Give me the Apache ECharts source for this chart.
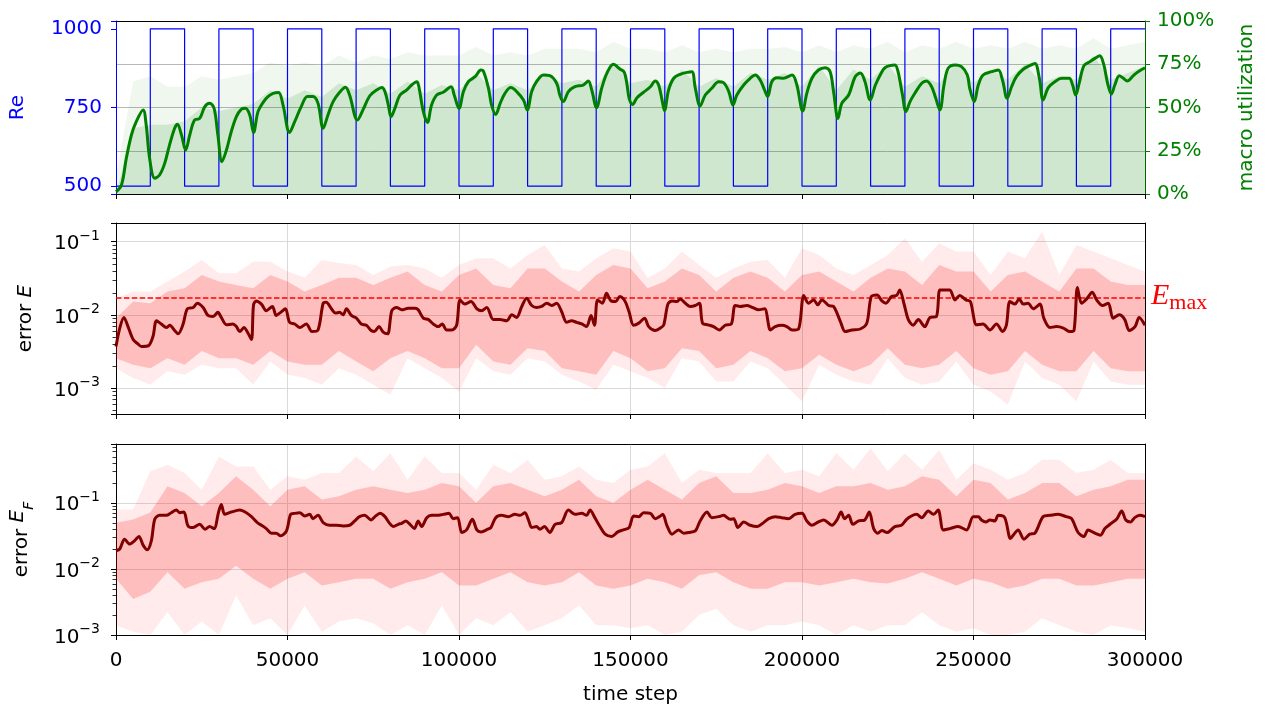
<!DOCTYPE html>
<html>
<head>
<meta charset="utf-8">
<script src="https://cdn.jsdelivr.net/npm/echarts@6.0.0/dist/echarts.min.js"></script>
<style>
  html, body { margin: 0; padding: 0; background: #fff; }
  #chart { width: 1271px; height: 709px; }
</style>
</head>
<body>
<div id="chart"></div>
<script>
// ---- data ----
const xTicks = [0, 50000, 100000, 150000, 200000, 250000, 300000];

// Reynolds number, square wave (value holds until the next step)
const reSteps = [0, 10000, 20000, 30000, 40000, 50000, 60000, 70000, 80000, 90000, 100000, 110000, 120000, 130000, 140000, 150000, 160000, 170000, 180000, 190000, 200000, 210000, 220000, 230000, 240000, 250000, 260000, 270000, 280000, 290000, 300000];
const reValues = [500, 1000, 500, 1000, 500, 1000, 500, 1000, 500, 1000, 500, 1000, 500, 1000, 500, 1000, 500, 1000, 500, 1000, 500, 1000, 500, 1000, 500, 1000, 500, 1000, 500, 1000, 1000];

// sample points of the raw (noisy) signals
const noiseSteps = [0, 5000, 10000, 15000, 20000, 25000, 30000, 35000, 40000, 45000, 50000, 55000, 60000, 65000, 70000, 75000, 80000, 85000, 90000, 95000, 100000, 105000, 110000, 115000, 120000, 125000, 130000, 135000, 140000, 145000, 150000, 155000, 160000, 165000, 170000, 175000, 180000, 185000, 190000, 195000, 200000, 205000, 210000, 215000, 220000, 225000, 230000, 235000, 240000, 245000, 250000, 255000, 260000, 265000, 270000, 275000, 280000, 285000, 290000, 295000, 300000];

// macro utilization (%), raw signal: dense top and spike top
const utilFillTop = [0, 38, 40, 40, 42, 50, 48, 50, 52, 60, 55, 60, 56, 64, 60, 64, 58, 65, 58, 63, 60, 70, 60, 64, 60, 70, 64, 66, 62, 76, 64, 66, 62, 72, 62, 67, 62, 70, 66, 70, 62, 74, 60, 72, 66, 75, 62, 68, 64, 76, 64, 72, 66, 75, 64, 68, 66, 80, 66, 70, 74];
const utilSpikeTop = [10, 65, 68, 62, 62, 68, 66, 68, 70, 76, 74, 76, 74, 80, 76, 80, 78, 82, 80, 80, 80, 85, 80, 82, 80, 84, 84, 84, 82, 88, 84, 84, 82, 86, 82, 84, 82, 84, 84, 85, 82, 86, 82, 86, 84, 88, 82, 86, 84, 88, 84, 86, 84, 88, 84, 86, 84, 90, 84, 86, 88];

// macro utilization (%), smoothed
const utilSmooth = [[0,1.3],[1600,5.2],[3000,20.6],[4500,34.1],[5900,41.8],[7900,48.6],[8800,39.9],[9800,20.6],[11300,9.1],[12700,11],[14200,17.7],[15600,28.3],[17100,38],[17900,40.3],[19100,34.1],[20300,25.4],[21500,34.1],[22900,42.8],[24400,43.7],[25900,50.5],[27300,52.4],[28600,49.5],[29700,34.1],[30900,18.7],[32200,25.4],[33600,36],[35100,44.7],[36500,48.9],[37700,49.5],[39000,45.7],[40100,35.6],[41400,47.6],[42900,53],[44300,56.3],[45800,58.2],[47400,58.6],[48700,51.4],[50600,35.6],[52100,41.8],[54000,50.5],[55800,56.3],[57400,56.3],[58900,52.4],[60400,38],[61800,45.7],[63300,53.4],[65200,58.8],[66900,61.7],[68100,57.2],[70400,42.8],[72000,48.6],[74000,56.8],[76000,60.1],[77500,61.5],[78400,59.2],[79400,51.4],[80200,44.7],[81300,49.5],[82800,57.2],[84700,60.1],[86200,63],[87700,64.9],[88300,62],[89600,47.6],[90800,41.4],[92000,51.4],[93500,57.2],[95400,58.8],[97700,62],[98600,57.2],[100000,49.5],[101300,59.2],[102700,64.9],[104700,67.8],[106400,71.7],[107100,71.1],[108600,61.1],[109500,51.4],[110700,46],[112000,52.4],[113400,58.2],[115100,61.5],[116800,59.2],[118800,54.3],[119900,48.6],[121200,59.2],[122600,64.9],[124600,68.8],[126500,68.4],[128500,63.9],[129400,57.2],[130400,53.4],[131900,59.2],[133800,62],[136200,63],[137700,65.3],[138700,60.1],[140100,49.9],[141600,61.1],[143100,69.7],[145000,75],[146900,72.3],[148200,70.3],[149000,63],[149600,55.3],[150600,51.8],[151900,55.7],[153800,58.8],[155800,62],[157200,65.3],[158200,63],[159200,54.3],[159900,48.2],[161100,60.1],[162600,66.9],[164500,69.2],[166500,70.3],[167900,70.7],[168900,61.1],[170300,50.9],[171800,57.2],[173700,61.1],[175700,64.9],[177100,64.4],[178600,59.5],[179900,51.4],[181000,57.2],[183000,63],[184900,66.9],[186400,68.8],[187800,65.9],[189100,60.1],[190000,56.3],[191200,64.9],[192700,67.2],[194600,66.9],[197100,68.8],[198500,63],[200200,48],[201400,58.2],[202900,66.9],[204800,71.7],[206800,73],[208200,70.7],[209200,59.2],[210500,43.7],[211600,52.4],[213600,57.2],[215500,67.8],[217000,69.9],[218300,65.3],[219900,54.3],[221400,63],[223300,70.7],[224200,73],[225600,74.2],[227100,74.6],[228000,70.7],[229300,57.2],[230300,47.6],[231500,53.4],[232900,58.2],[234900,64],[236300,65.3],[237800,62],[239000,55.3],[240200,48.6],[241400,63],[242600,72.6],[244600,74.6],[246500,73.6],[248200,68.8],[248900,61.1],[250200,53.4],[251400,63],[252800,68.8],[255300,70.7],[257200,71.7],[258500,65.5],[259800,55.3],[261100,62],[262500,67.8],[264500,72.1],[266400,74.2],[267900,75.5],[269200,66.9],[270300,54.3],[271800,61.5],[273700,64.9],[275700,66.9],[277900,66.9],[278900,63],[279800,57.2],[280800,64],[282200,74.2],[283900,76.5],[285400,78.4],[286800,79.9],[288000,74.6],[289100,64],[290200,57.8],[291200,63],[292500,68.4],[293700,66.9],[294800,65.3],[296600,68.4],[298000,70.7],[300000,73]];

// error E, raw signal envelopes
const eDenseHi = [0.009, 0.0152, 0.0144, 0.0208, 0.0231, 0.035, 0.0285, 0.0256, 0.0231, 0.035, 0.0285, 0.0208, 0.0256, 0.032, 0.032, 0.0256, 0.032, 0.039, 0.0256, 0.0208, 0.035, 0.043, 0.0256, 0.0231, 0.043, 0.043, 0.0285, 0.0208, 0.035, 0.048, 0.043, 0.0231, 0.0285, 0.043, 0.035, 0.0208, 0.032, 0.039, 0.032, 0.0208, 0.035, 0.039, 0.0285, 0.0208, 0.032, 0.043, 0.039, 0.0256, 0.048, 0.039, 0.039, 0.0208, 0.035, 0.039, 0.0285, 0.0208, 0.043, 0.043, 0.0285, 0.0256, 0.0256];
const eDenseLo = [0.00256, 0.00208, 0.00187, 0.00256, 0.00208, 0.0032, 0.00256, 0.00256, 0.00208, 0.0032, 0.00231, 0.00208, 0.00208, 0.0032, 0.00231, 0.00169, 0.00256, 0.0032, 0.00256, 0.00187, 0.00187, 0.0039, 0.00231, 0.00208, 0.0035, 0.0032, 0.00187, 0.00169, 0.00152, 0.0032, 0.00256, 0.00169, 0.00187, 0.0035, 0.0032, 0.00187, 0.00208, 0.0032, 0.00256, 0.00169, 0.00187, 0.00285, 0.00208, 0.00169, 0.00208, 0.0035, 0.00208, 0.00187, 0.00208, 0.0032, 0.00187, 0.00152, 0.00169, 0.0032, 0.00208, 0.00169, 0.00169, 0.0032, 0.00187, 0.00169, 0.00169];
const eSpikeHi = [0.0169, 0.0208, 0.0208, 0.0285, 0.039, 0.056, 0.037, 0.037, 0.053, 0.053, 0.039, 0.032, 0.056, 0.051, 0.048, 0.035, 0.0456, 0.048, 0.043, 0.032, 0.048, 0.0593, 0.0593, 0.043, 0.0658, 0.09, 0.043, 0.039, 0.0593, 0.081, 0.073, 0.032, 0.043, 0.073, 0.048, 0.032, 0.043, 0.053, 0.056, 0.032, 0.081, 0.0658, 0.043, 0.035, 0.048, 0.0658, 0.111, 0.053, 0.095, 0.073, 0.073, 0.035, 0.073, 0.0593, 0.137, 0.035, 0.09, 0.073, 0.0593, 0.048, 0.039];
const eSpikeLo = [0.00187, 0.00137, 0.00111, 0.00169, 0.00152, 0.00208, 0.00187, 0.00187, 0.00111, 0.00231, 0.00152, 0.00137, 0.00111, 0.00187, 0.00152, 0.00111, 0.00081, 0.00256, 0.00187, 0.00137, 0.0009, 0.00256, 0.00169, 0.00152, 0.00256, 0.00231, 0.00152, 0.00123, 0.00095, 0.00208, 0.00169, 0.00137, 0.001, 0.00256, 0.00231, 0.00123, 0.00123, 0.00231, 0.00187, 0.00111, 0.00066, 0.00208, 0.00152, 0.00123, 0.00111, 0.00256, 0.00137, 0.00111, 0.00123, 0.00231, 0.00111, 0.0009, 0.00059, 0.00231, 0.00137, 0.00111, 0.00066, 0.00231, 0.00123, 0.00111, 0.00111];

// error E, smoothed
const eSmooth = [[0,0.0037],[1100,0.0066],[2300,0.0092],[3500,0.0069],[5000,0.0046],[6400,0.004],[7400,0.0037],[9500,0.0038],[10800,0.0051],[11800,0.0083],[13200,0.0075],[14700,0.0067],[15700,0.0072],[17100,0.0061],[18100,0.0055],[19500,0.0073],[20800,0.0121],[22500,0.0126],[23700,0.0144],[25400,0.0126],[26800,0.0098],[28300,0.0095],[29700,0.0108],[30700,0.0092],[32200,0.0073],[34100,0.0075],[35100,0.0069],[36100,0.0059],[37300,0.0067],[38500,0.0056],[39500,0.0046],[40100,0.0137],[40900,0.0155],[42400,0.014],[43800,0.0114],[45600,0.013],[46700,0.0098],[48000,0.0108],[49400,0.0121],[50600,0.0079],[52100,0.0075],[53600,0.0067],[55500,0.0075],[57100,0.0059],[58900,0.0062],[60400,0.0144],[61300,0.0149],[62800,0.0121],[64000,0.0106],[65200,0.0108],[66200,0.01],[67200,0.0121],[68600,0.0098],[70100,0.009],[71500,0.0075],[73000,0.0072],[74400,0.0061],[75300,0.0059],[76700,0.0069],[77900,0.0058],[79200,0.0055],[80400,0.0114],[81800,0.0126],[83300,0.0117],[85200,0.0123],[87200,0.0123],[88100,0.0117],[89600,0.009],[91100,0.0086],[92500,0.0075],[94000,0.0069],[95100,0.0075],[96400,0.0062],[97900,0.0062],[99300,0.0072],[100300,0.016],[101700,0.014],[103500,0.0152],[105200,0.0121],[106600,0.0114],[108100,0.0126],[110000,0.0086],[112000,0.0086],[113900,0.0083],[115400,0.01],[116800,0.0092],[118300,0.013],[119700,0.0169],[121200,0.0134],[122600,0.0126],[124100,0.013],[125600,0.0144],[127000,0.0134],[128500,0.0144],[129900,0.0111],[131400,0.0079],[132800,0.0083],[134300,0.0079],[135800,0.0075],[137200,0.0069],[138500,0.0098],[139500,0.0072],[140400,0.016],[141800,0.0144],[143000,0.0197],[144300,0.0155],[145700,0.0152],[146900,0.0178],[148000,0.0165],[148700,0.0144],[149600,0.0109],[150900,0.0072],[152400,0.0077],[154100,0.009],[155300,0.0069],[157200,0.0061],[158700,0.0066],[159700,0.0073],[160900,0.014],[162100,0.0155],[163500,0.0152],[164500,0.0165],[166000,0.0144],[167400,0.013],[168900,0.0134],[170100,0.0144],[171000,0.0077],[172600,0.0073],[174200,0.0069],[175900,0.0062],[177600,0.0072],[179400,0.0075],[180500,0.0134],[182000,0.013],[183900,0.0134],[185600,0.0126],[187300,0.0117],[189100,0.0121],[190800,0.0062],[192200,0.0069],[194100,0.0072],[195600,0.0069],[197100,0.0062],[199000,0.0064],[200500,0.0184],[201900,0.0144],[203400,0.016],[204600,0.0137],[205800,0.016],[207800,0.0134],[209200,0.013],[211200,0.0081],[212600,0.0059],[214600,0.0062],[217000,0.0064],[218900,0.0077],[220200,0.0178],[221900,0.0187],[223300,0.0155],[224500,0.0144],[226100,0.0178],[227600,0.0184],[228500,0.0219],[229700,0.0144],[231000,0.0086],[232400,0.0072],[233900,0.0086],[235800,0.0069],[237300,0.0092],[239200,0.0095],[240200,0.0219],[241700,0.0219],[243100,0.0219],[244600,0.016],[246000,0.0184],[247800,0.016],[249100,0.0152],[250900,0.0073],[252800,0.0075],[254800,0.0062],[256700,0.0075],[258500,0.0059],[259600,0.0073],[260600,0.0152],[262100,0.014],[263300,0.0165],[264500,0.014],[265900,0.0144],[267400,0.0121],[269400,0.014],[270500,0.009],[272300,0.0067],[274200,0.0069],[276200,0.0066],[278100,0.0059],[279300,0.0061],[280300,0.0236],[281500,0.0144],[283000,0.0165],[284600,0.0204],[285900,0.016],[287600,0.0134],[289300,0.0144],[290700,0.009],[292500,0.01],[294100,0.0086],[295400,0.0061],[297100,0.0069],[298300,0.0092],[300000,0.0072]];
const eMax = 0.017;

// error E_F, raw signal envelopes
const fDenseHi = [0.05, 0.056, 0.071, 0.178, 0.141, 0.089, 0.141, 0.251, 0.158, 0.089, 0.158, 0.178, 0.112, 0.126, 0.158, 0.178, 0.158, 0.141, 0.158, 0.2, 0.178, 0.1, 0.178, 0.2, 0.158, 0.126, 0.158, 0.224, 0.126, 0.1, 0.158, 0.224, 0.158, 0.112, 0.2, 0.251, 0.141, 0.141, 0.158, 0.2, 0.178, 0.141, 0.178, 0.178, 0.2, 0.158, 0.178, 0.251, 0.224, 0.126, 0.224, 0.2, 0.112, 0.141, 0.2, 0.2, 0.126, 0.158, 0.178, 0.224, 0.224];
const fDenseLo = [0.0071, 0.0035, 0.0045, 0.0089, 0.005, 0.0063, 0.0071, 0.0112, 0.0071, 0.005, 0.0071, 0.0089, 0.0056, 0.0063, 0.0071, 0.0071, 0.005, 0.0063, 0.0071, 0.0089, 0.0056, 0.0056, 0.0071, 0.0089, 0.0063, 0.0056, 0.0063, 0.0089, 0.0056, 0.005, 0.0056, 0.0071, 0.0063, 0.005, 0.008, 0.0089, 0.0063, 0.005, 0.005, 0.0063, 0.0063, 0.0056, 0.0063, 0.0071, 0.0063, 0.006, 0.0071, 0.0089, 0.0071, 0.0056, 0.0071, 0.0063, 0.005, 0.0056, 0.0071, 0.0071, 0.0056, 0.0056, 0.0063, 0.0071, 0.0071];
const fSpikeHi = [0.079, 0.079, 0.299, 0.376, 0.282, 0.158, 0.501, 0.355, 0.355, 0.158, 0.251, 0.224, 0.282, 0.282, 0.501, 0.299, 0.562, 0.224, 0.501, 0.282, 0.282, 0.158, 0.376, 0.282, 0.447, 0.224, 0.251, 0.355, 0.224, 0.2, 0.316, 0.355, 0.562, 0.2, 0.316, 0.282, 0.282, 0.282, 0.562, 0.282, 0.316, 0.251, 0.562, 0.316, 0.668, 0.299, 0.562, 0.316, 0.631, 0.224, 0.398, 0.316, 0.224, 0.282, 0.447, 0.447, 0.282, 0.316, 0.447, 0.282, 0.282];
const fSpikeLo = [0.0014, 0.00112, 0.001, 0.0022, 0.001, 0.0016, 0.001, 0.004, 0.0014, 0.0018, 0.001, 0.0028, 0.00112, 0.0016, 0.0018, 0.0015, 0.001, 0.0014, 0.001, 0.0028, 0.001, 0.0018, 0.0014, 0.0022, 0.00112, 0.0014, 0.0018, 0.0028, 0.0014, 0.0014, 0.00126, 0.0014, 0.001, 0.00112, 0.002, 0.0025, 0.0014, 0.00112, 0.0014, 0.0014, 0.0016, 0.0014, 0.001, 0.0014, 0.00112, 0.0014, 0.0014, 0.0022, 0.0014, 0.00112, 0.00126, 0.001, 0.001, 0.00112, 0.0018, 0.0014, 0.00112, 0.001, 0.0014, 0.00126, 0.00112];

// error E_F, smoothed
const fSmooth = [[0,0.0188],[1100,0.02],[2500,0.0282],[4000,0.0237],[5400,0.0266],[6700,0.0309],[7900,0.0229],[9100,0.0195],[10300,0.0266],[11300,0.0562],[12700,0.0646],[14700,0.0646],[16100,0.0708],[17600,0.0776],[18600,0.0708],[19800,0.0724],[21000,0.0447],[22500,0.0422],[24400,0.0473],[26000,0.0398],[27300,0.0437],[28600,0.0407],[29900,0.0724],[30700,0.0944],[31700,0.0668],[33600,0.0724],[36100,0.0776],[38000,0.0708],[39500,0.0617],[41200,0.0501],[42400,0.0457],[43800,0.0407],[45300,0.0347],[46700,0.0347],[48000,0.0316],[49700,0.0376],[50900,0.0668],[52100,0.0692],[53600,0.0708],[55000,0.0631],[56500,0.0668],[57400,0.0575],[58900,0.0646],[60400,0.0501],[62300,0.0457],[64200,0.0457],[66200,0.0447],[68100,0.0457],[69600,0.0531],[71000,0.0617],[72500,0.0646],[74400,0.055],[75500,0.0617],[77000,0.0692],[78400,0.0617],[79600,0.0501],[80900,0.0437],[82300,0.0473],[83300,0.049],[84500,0.0531],[85700,0.0473],[87000,0.0407],[88100,0.0531],[89100,0.0437],[90600,0.0596],[92000,0.0646],[93500,0.0646],[95400,0.0668],[97100,0.0692],[98300,0.0575],[99600,0.0596],[100800,0.0355],[102200,0.0389],[103900,0.0562],[105200,0.0389],[106400,0.0363],[108400,0.0398],[109300,0.0422],[110700,0.0596],[112400,0.0646],[114400,0.0617],[116300,0.0668],[117800,0.0646],[119200,0.0708],[120200,0.0562],[121200,0.0422],[122600,0.0437],[123600,0.0398],[124900,0.0437],[126500,0.0355],[128000,0.0473],[129900,0.0501],[131900,0.0776],[133800,0.0668],[135800,0.0692],[137200,0.0646],[138200,0.0776],[139600,0.0596],[141100,0.0437],[142600,0.0335],[144500,0.0309],[146300,0.0363],[147900,0.0389],[149600,0.0422],[150900,0.0631],[152400,0.0617],[153800,0.0708],[155800,0.0692],[157200,0.0575],[158400,0.0617],[159400,0.0668],[160600,0.0457],[162100,0.0335],[164000,0.0389],[165500,0.0347],[166900,0.0355],[168900,0.0376],[170300,0.0531],[172300,0.0724],[173700,0.0596],[175700,0.0617],[177100,0.0646],[179100,0.0562],[180100,0.0575],[181300,0.0422],[183000,0.0513],[184900,0.0457],[186900,0.0437],[188800,0.0501],[190300,0.0575],[192200,0.0617],[194100,0.0596],[196100,0.0575],[198000,0.0668],[200000,0.0692],[201400,0.0531],[202900,0.0457],[204800,0.0513],[206300,0.055],[208700,0.0457],[210200,0.055],[211400,0.0724],[212400,0.0575],[213600,0.0646],[214800,0.0473],[216500,0.0531],[218300,0.055],[219600,0.0724],[220900,0.0407],[222100,0.0347],[223300,0.038],[224800,0.0355],[227100,0.0437],[229000,0.0457],[230500,0.0562],[231900,0.0631],[233400,0.0668],[234900,0.0596],[236800,0.075],[238300,0.0668],[239700,0.0776],[241200,0.0389],[243100,0.0407],[245500,0.0437],[248000,0.0389],[249900,0.0617],[251400,0.0617],[252300,0.055],[253600,0.0513],[254800,0.055],[256200,0.0531],[257200,0.0646],[259100,0.0596],[260800,0.0288],[261800,0.0335],[263000,0.0389],[264700,0.0282],[266400,0.0335],[267900,0.0347],[270300,0.0617],[272300,0.0646],[274700,0.0668],[277100,0.0617],[278600,0.0575],[280500,0.0355],[282200,0.0309],[283400,0.0389],[285400,0.0347],[287000,0.0324],[288300,0.0407],[289800,0.0473],[291700,0.0562],[293200,0.075],[294400,0.055],[295800,0.0513],[297000,0.0596],[298500,0.0646],[300000,0.0617]];

// ---- chart ----
const FONT = 'DejaVu Sans';
const FS = 20;
const chart = echarts.init(document.getElementById('chart'), null, { renderer: 'canvas' });

const zip = (xs, ys) => xs.map((x, i) => [x, ys[i]]);

// log minor tick positions (2..9 x 10^k) inside an axis range
const minorLogTicks = (lo, hi) => {
  const out = [];
  for (let k = -5; k <= 1; k++) {
    for (let m = 2; m <= 9; m++) {
      const v = m * Math.pow(10, k);
      if (v > lo && v < hi) out.push(v);
    }
  }
  return out;
};

// log tick labels as 10^n
const logLabel = v => {
  const l = Math.log10(v);
  const e = Math.round(l);
  if (Math.abs(l - e) > 0.01) return '';
  return '{b|10}{p|' + (e < 0 ? '\u2212' + (-e) : e) + '}';
};
const logRich = {
  b: { fontSize: FS, fontFamily: FONT, color: '#000', verticalAlign: 'bottom', lineHeight: 25 },
  p: { fontSize: 14, fontFamily: FONT, color: '#000', verticalAlign: 'top', lineHeight: 25 }
};

// filled band between two envelopes, drawn through the axes
const band = (xi, yi, lo, hi, color, z) => ({
  type: 'custom',
  xAxisIndex: xi,
  yAxisIndex: yi,
  silent: true,
  clip: true,
  z: z,
  data: [[noiseSteps[0], hi[0]]],
  encode: { x: 0, y: 1 },
  renderItem: (params, api) => {
    const pts = [];
    for (let i = 0; i < noiseSteps.length; i++) pts.push(api.coord([noiseSteps[i], hi[i]]));
    for (let i = noiseSteps.length - 1; i >= 0; i--) pts.push(api.coord([noiseSteps[i], lo[i]]));
    return { type: 'polygon', shape: { points: pts }, style: { fill: color } };
  }
});

// short minor ticks on the left of a log axis
const minorTicks = (xi, yi, vals) => ({
  type: 'custom',
  xAxisIndex: xi,
  yAxisIndex: yi,
  silent: true,
  clip: false,
  z: 5,
  data: [[0, vals[0]]],
  encode: { x: 0, y: 1 },
  renderItem: (params, api) => ({
    type: 'group',
    children: vals.map(v => {
      const p = api.coord([0, v]);
      const y = Math.round(p[1]) + 0.5;
      return { type: 'line', shape: { x1: p[0] - 3.5, y1: y, x2: p[0], y2: y }, style: { stroke: '#000', lineWidth: 0.8 } };
    })
  })
});

const xAxisFor = (i) => ({
  type: 'value',
  gridIndex: i,
  position: 'bottom',
  min: xTicks[0],
  max: xTicks[xTicks.length - 1],
  interval: 50000,
  axisLine: { show: true, onZero: false, lineStyle: { color: '#000', width: 1 } },
  axisTick: { show: true, length: 5, lineStyle: { color: '#000' } },
  axisLabel: { show: i === 2, color: '#000', fontSize: FS, fontFamily: FONT, margin: 16, formatter: v => String(v) },
  splitLine: { show: i > 0, lineStyle: { color: '#d9d9d9', width: 1 } },
  name: i === 2 ? 'time step' : '',
  nameLocation: 'middle',
  nameGap: 50,
  nameTextStyle: { color: '#000', fontSize: FS, fontFamily: FONT }
});

// top frame line of each panel
const topFrame = (i) => ({
  type: 'value', gridIndex: i, position: 'top',
  min: xTicks[0], max: xTicks[xTicks.length - 1],
  axisLine: { show: true, onZero: false, lineStyle: { color: '#000', width: 1 } },
  axisTick: { show: false }, axisLabel: { show: false }, splitLine: { show: false }
});
// right frame line of the log panels
const rightFrame = (i, lo, hi) => ({
  type: 'log', gridIndex: i, position: 'right', min: lo, max: hi,
  axisLine: { show: true, onZero: false, lineStyle: { color: '#000', width: 1 } },
  axisTick: { show: false }, axisLabel: { show: false }, splitLine: { show: false }
});

const eRange = [0.000442, 0.1795];
const fRange = [0.001, 0.775];

const option = {
  animation: false,
  backgroundColor: '#fff',
  grid: [
    { left: 116, right: 126, top: 21, height: 173 },
    { left: 116, right: 126, top: 223, height: 191 },
    { left: 116, right: 126, top: 444, height: 191 }
  ],
  xAxis: [xAxisFor(0), xAxisFor(1), xAxisFor(2), topFrame(0), topFrame(1), topFrame(2)],
  yAxis: [
    {
      type: 'value', gridIndex: 0, position: 'left',
      min: 475, max: 1025, minInterval: 250, maxInterval: 250,
      axisLine: { show: true, onZero: false, lineStyle: { color: '#0000ff' } },
      axisTick: { show: true, length: 5, lineStyle: { color: '#0000ff' } },
      axisLabel: { color: '#0000ff', fontSize: FS, fontFamily: FONT, margin: 14, formatter: v => (v % 250 === 0 ? String(v) : '') },
      splitLine: { show: false },
      name: 'Re', nameLocation: 'middle', nameRotate: 90, nameGap: 88,
      nameTextStyle: { color: '#0000ff', fontSize: FS, fontFamily: FONT }
    },
    {
      type: 'value', gridIndex: 0, position: 'right',
      min: 0, max: 100, interval: 25,
      axisLine: { show: true, onZero: false, lineStyle: { color: '#006400' } },
      axisTick: { show: true, length: 5, lineStyle: { color: '#008000' } },
      axisLabel: { color: '#008000', fontSize: FS, fontFamily: FONT, margin: 12, formatter: v => v + '%' },
      splitLine: { show: true, lineStyle: { color: '#b8b8b8', width: 1 } },
      name: 'macro utilization', nameLocation: 'middle', nameRotate: 90, nameGap: 92,
      nameTextStyle: { color: '#008000', fontSize: FS, fontFamily: FONT }
    },
    {
      type: 'log', logBase: 10, gridIndex: 1, position: 'left',
      min: eRange[0], max: eRange[1],
      axisLine: { show: true, onZero: false, lineStyle: { color: '#000' } },
      axisTick: { show: true, length: 5, lineStyle: { color: '#000' } },
      axisLabel: { fontSize: FS, fontFamily: FONT, margin: 16, formatter: logLabel, rich: logRich },
      splitLine: { show: true, lineStyle: { color: '#d9d9d9', width: 1 } },
      name: 'error {i|E}', nameLocation: 'middle', nameRotate: 90, nameGap: 80,
      nameTextStyle: {
        color: '#000', fontSize: FS, fontFamily: FONT,
        rich: { i: { fontSize: FS, fontFamily: FONT, fontStyle: 'italic', color: '#000' } }
      }
    },
    {
      type: 'log', logBase: 10, gridIndex: 2, position: 'left',
      min: fRange[0], max: fRange[1],
      axisLine: { show: true, onZero: false, lineStyle: { color: '#000' } },
      axisTick: { show: true, length: 5, lineStyle: { color: '#000' } },
      axisLabel: { fontSize: FS, fontFamily: FONT, margin: 16, formatter: logLabel, rich: logRich },
      splitLine: { show: true, lineStyle: { color: '#d9d9d9', width: 1 } },
      name: 'error {i|E}{s|F}', nameLocation: 'middle', nameRotate: 90, nameGap: 80,
      nameTextStyle: {
        color: '#000', fontSize: FS, fontFamily: FONT,
        rich: {
          i: { fontSize: FS, fontFamily: FONT, fontStyle: 'italic', color: '#000', verticalAlign: 'top', lineHeight: 28 },
          s: { fontSize: 14, fontFamily: FONT, fontStyle: 'italic', color: '#000', verticalAlign: 'bottom', lineHeight: 28 }
        }
      }
    },
    rightFrame(1, eRange[0], eRange[1]),
    rightFrame(2, fRange[0], fRange[1])
  ],
  series: [
    // panel 1: utilization raw signal
    {
      type: 'line', xAxisIndex: 0, yAxisIndex: 1, silent: true, z: 1,
      data: zip(noiseSteps, utilSpikeTop), showSymbol: false,
      lineStyle: { opacity: 0 }, areaStyle: { color: 'rgba(0,128,0,0.09)' }
    },
    {
      type: 'line', xAxisIndex: 0, yAxisIndex: 1, silent: true, z: 1,
      data: zip(noiseSteps, utilFillTop), showSymbol: false,
      lineStyle: { opacity: 0 }, areaStyle: { color: 'rgba(0,128,0,0.19)' }
    },
    // panel 1: Re square wave
    {
      type: 'line', xAxisIndex: 0, yAxisIndex: 0, silent: true, z: 3,
      data: zip(reSteps, reValues), step: 'end', showSymbol: false,
      lineStyle: { color: '#0000ff', width: 1.2 }
    },
    // panel 1: utilization smoothed
    {
      type: 'line', xAxisIndex: 0, yAxisIndex: 1, silent: true, z: 4,
      data: utilSmooth, smooth: 0.35, showSymbol: false,
      lineStyle: { color: '#008000', width: 3 }
    },
    // panel 2
    band(1, 2, eSpikeLo, eSpikeHi, 'rgba(255,0,0,0.08)', 1),
    band(1, 2, eDenseLo, eDenseHi, 'rgba(255,0,0,0.19)', 1),
    minorTicks(1, 2, minorLogTicks(eRange[0], eRange[1])),
    {
      type: 'line', xAxisIndex: 1, yAxisIndex: 2, silent: true, z: 4,
      data: eSmooth, smooth: 0.3, showSymbol: false,
      lineStyle: { color: '#800000', width: 3 },
      markLine: {
        silent: true, symbol: 'none', z: 3, precision: 4,
        data: [{ yAxis: eMax }],
        lineStyle: { color: '#ff0000', type: [5.5, 2.4], width: 1.5 },
        label: {
          show: true, position: 'end', distance: 6,
          formatter: '{e|E}{s|max}',
          rich: {
            e: { fontFamily: 'Liberation Serif', fontStyle: 'italic', fontSize: 30, color: '#ff0000', verticalAlign: 'top', lineHeight: 33 },
            s: { fontFamily: 'Liberation Serif', fontSize: 22, color: '#ff0000', verticalAlign: 'bottom', lineHeight: 33 }
          }
        }
      }
    },
    // panel 3
    band(2, 3, fSpikeLo, fSpikeHi, 'rgba(255,0,0,0.08)', 1),
    band(2, 3, fDenseLo, fDenseHi, 'rgba(255,0,0,0.19)', 1),
    minorTicks(2, 3, minorLogTicks(fRange[0], fRange[1])),
    {
      type: 'line', xAxisIndex: 2, yAxisIndex: 3, silent: true, z: 4,
      data: fSmooth, smooth: 0.3, showSymbol: false,
      lineStyle: { color: '#800000', width: 3 }
    }
  ]
};

chart.setOption(option);
</script>
</body>
</html>
